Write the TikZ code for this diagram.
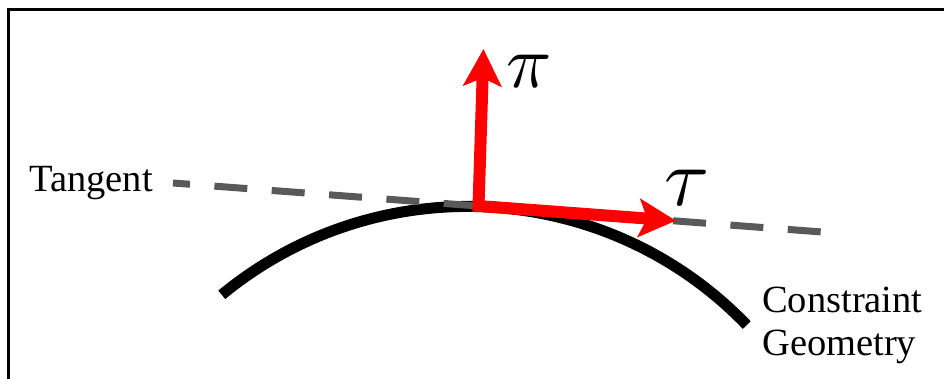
\documentclass[tikz,border=0pt]{standalone}
\usepackage{fontspec}
\setmainfont{Liberation Serif}
\usepackage{graphicx}
\usetikzlibrary{arrows.meta,calc}
\definecolor{dashgray}{RGB}{89,89,89}
\definecolor{vecred}{RGB}{255,0,0}
\tikzset{
  frameline/.style={line width=2.6pt, draw=black},
  geomcurve/.style={line width=11pt, draw=black, line cap=butt},
  tangentline/.style={line width=7pt, draw=dashgray, line cap=butt,
    dash pattern=on 33pt off 24.5pt, dash phase=16pt},
  vecarrow/.style={line width=12pt, draw=vecred, line join=miter,
    {Stealth[length=37pt,width=38pt,inset=8pt,fill=vecred]}-{Stealth[length=37pt,width=38pt,inset=8pt,fill=vecred]}},
  lbl/.style={inner sep=0pt, font=\fontsize{38.5}{43}\selectfont, anchor=base west},
  greek/.style={inner sep=0pt, anchor=center}
}
\begin{document}
\begin{tikzpicture}[x=1pt,y=1pt]
\useasboundingbox (0,0) rectangle (944,-379);
\clip (0,0) rectangle (944,-379);
% frame
\coordinate (fbl) at (8.7,-385);
\coordinate (ftl) at (8.7,-9.5);
\coordinate (ftr) at (950,-9.5);
\draw[frameline] (fbl) -- (ftl) -- (ftr);
% constraint geometry curve (circular arc)
\coordinate (cc) at (467.9,-593.4);
\draw[geomcurve] ($(cc)+(129.5:387pt)$) arc[start angle=129.5, end angle=43.9, radius=387pt];
% tangent line
\coordinate (tanA) at (173,-183);
\coordinate (tanB) at (822,-232);
\draw[tangentline] (tanA) -- (tanB);
% vectors
\coordinate (O) at (478.5,-206);
\coordinate (tipN) at (483.5,-49);
\coordinate (tipT) at (676,-220.7);
\draw[vecarrow] (tipN) -- (O) -- (tipT);
% labels
\node[lbl] (tangentlabel) at (29,-192) {Tangent};
\node[lbl] (cons) at (762,-312) {Constraint};
\node[lbl] (geom) at (762,-355) {Geometry};
\node[greek] (pi) at (529.5,-71.5) {\scalebox{7.5}{$\pi$}};
\node[greek] (tau) at (687.5,-187.5) {\scalebox{8.2}{$\tau$}};
\end{tikzpicture}
\end{document}
